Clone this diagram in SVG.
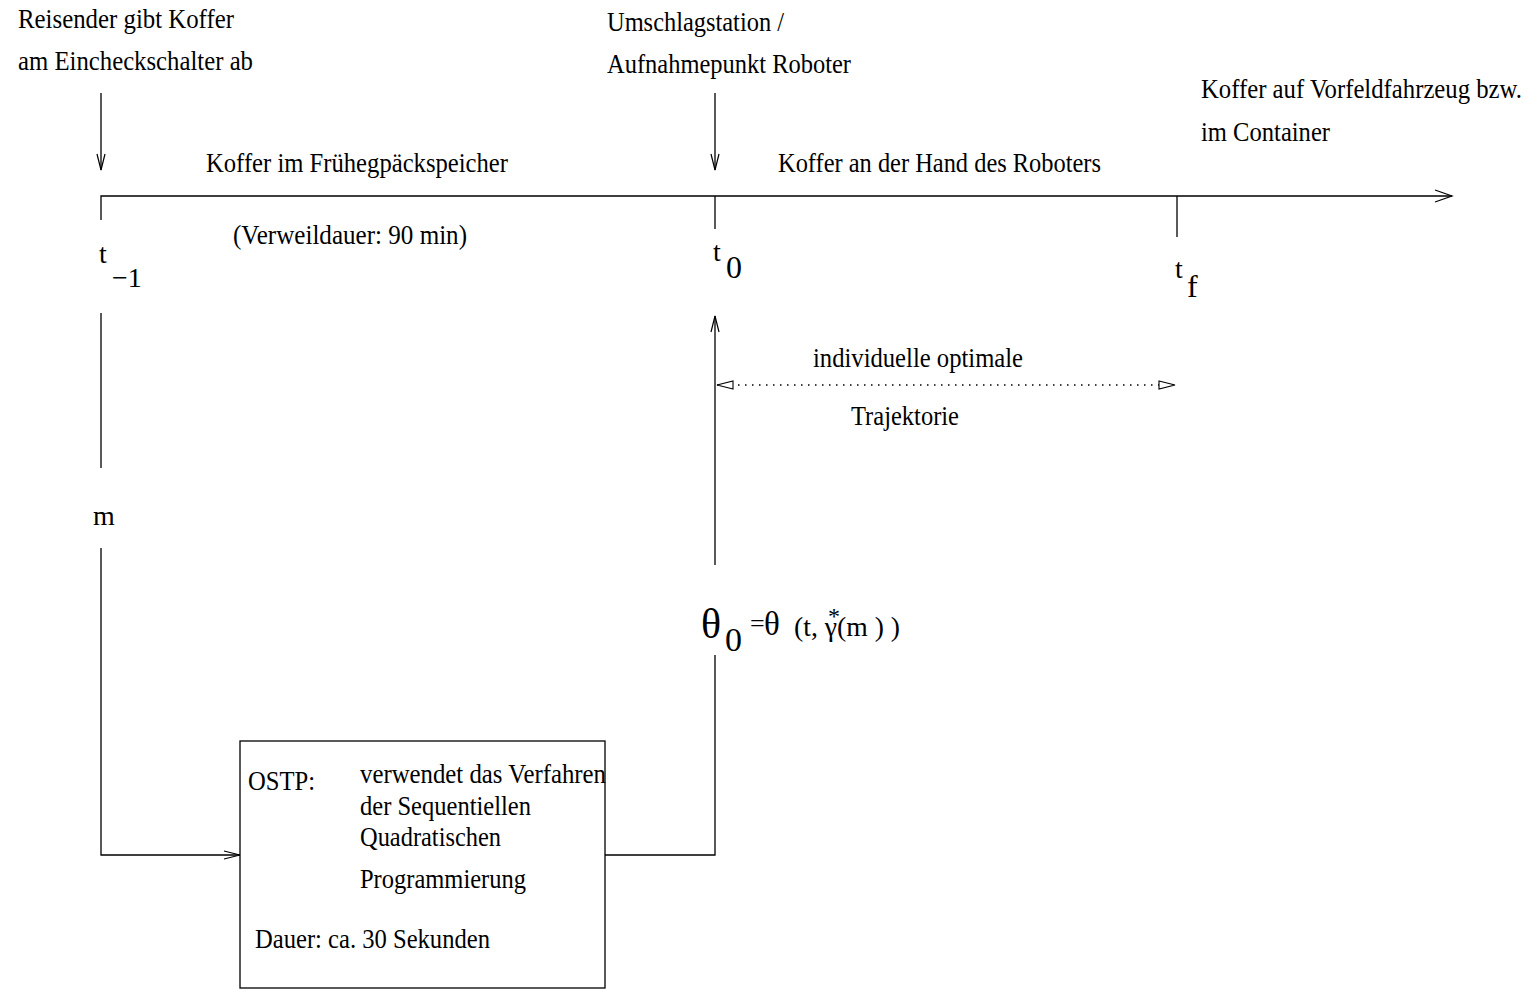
<svg xmlns="http://www.w3.org/2000/svg" width="1540" height="992" viewBox="0 0 1540 992">
  <style>
    text { font-family: "Liberation Serif", "Times New Roman", serif; font-size: 28px; fill: #000; }
    .t { font-size: 28px; }
    .sub { font-size: 32px; }
    .ln { fill: none; stroke: #000; stroke-width: 1.3; }
    .dot { fill: none; stroke: #000; stroke-width: 1.3; stroke-dasharray: 1.5 5.5; }
    .box { fill: #fff; stroke: #000; stroke-width: 1.3; }
  </style>
  <defs>
    <!-- open "V" heads, drawn at 1:1 user units -->
    <marker id="vee" markerUnits="userSpaceOnUse" viewBox="-20 -10 22 20" markerWidth="22" markerHeight="20" refX="0" refY="0" orient="auto" overflow="visible">
      <path d="M-16,-4 L0,0 L-16,4" fill="none" stroke="#000" stroke-width="1.2"/>
    </marker>
    <marker id="veeWide" markerUnits="userSpaceOnUse" viewBox="-20 -10 22 20" markerWidth="22" markerHeight="20" refX="0" refY="0" orient="auto" overflow="visible">
      <path d="M-17,-6 L0,0 L-17,6" fill="none" stroke="#000" stroke-width="1.2"/>
    </marker>
    <!-- hollow triangle heads for the dotted span -->
    <marker id="tri" markerUnits="userSpaceOnUse" viewBox="-20 -10 22 20" markerWidth="22" markerHeight="20" refX="0" refY="0" orient="auto-start-reverse" overflow="visible">
      <path d="M-16,-4 L0,0 L-16,4 Z" fill="#fff" stroke="#000" stroke-width="1.1"/>
    </marker>
  </defs>

  <rect width="1540" height="992" fill="#fff"/>

  <g id="connectors">
    <!-- time axis with ticks -->
    <path class="ln" d="M101,220 L101,196 L1452,196" marker-end="url(#veeWide)"/>
    <path class="ln" d="M715,196 L715,229"/>
    <path class="ln" d="M1177,196 L1177,237"/>
    <!-- event pointers -->
    <path class="ln" d="M101,93 L101,170" marker-end="url(#vee)"/>
    <path class="ln" d="M715,93 L715,170" marker-end="url(#vee)"/>
    <!-- t-1 to OSTP -->
    <path class="ln" d="M101,313 L101,468"/>
    <path class="ln" d="M101,548 L101,855 L240,855" marker-end="url(#vee)"/>
    <!-- OSTP result up to t0 -->
    <path class="ln" d="M605,855 L715,855 L715,655"/>
    <path class="ln" d="M715,565 L715,316" marker-end="url(#vee)"/>
    <!-- optimal trajectory span -->
    <path class="dot" d="M717,385 L1175,385"/>
    <path d="M717,385 L1175,385" fill="none" stroke="none" marker-start="url(#tri)" marker-end="url(#tri)"/>
  </g>

  <g id="checkin-note">
    <text x="18" y="28" textLength="216" lengthAdjust="spacingAndGlyphs">Reisender gibt Koffer</text>
    <text x="18" y="70" textLength="235" lengthAdjust="spacingAndGlyphs">am Eincheckschalter ab</text>
  </g>

  <g id="transfer-note">
    <text x="607" y="31" textLength="177" lengthAdjust="spacingAndGlyphs">Umschlagstation /</text>
    <text x="607" y="73" textLength="244" lengthAdjust="spacingAndGlyphs">Aufnahmepunkt Roboter</text>
  </g>

  <g id="apron-note">
    <text x="1201" y="98" textLength="321" lengthAdjust="spacingAndGlyphs">Koffer auf Vorfeldfahrzeug bzw.</text>
    <text x="1201" y="141" textLength="129" lengthAdjust="spacingAndGlyphs">im Container</text>
  </g>

  <g id="phase-storage">
    <text x="206" y="172" textLength="302" lengthAdjust="spacingAndGlyphs">Koffer im Frühegpäckspeicher</text>
    <text x="233" y="244" textLength="234" lengthAdjust="spacingAndGlyphs">(Verweildauer: 90 min)</text>
  </g>

  <g id="phase-robot">
    <text x="778" y="172" textLength="323" lengthAdjust="spacingAndGlyphs">Koffer an der Hand des Roboters</text>
  </g>

  <g id="time-t-1">
    <text class="t" x="99" y="263">t</text>
    <text class="t" x="112" y="287">−1</text>
  </g>

  <g id="time-t0">
    <text class="t" x="713" y="261">t</text>
    <text class="sub" x="726" y="278">0</text>
  </g>

  <g id="time-tf">
    <text class="t" x="1175" y="278">t</text>
    <text class="sub" x="1187" y="297">f</text>
  </g>

  <g id="mass-label">
    <text x="93" y="525">m</text>
  </g>

  <g id="trajectory">
    <text x="813" y="367" textLength="210" lengthAdjust="spacingAndGlyphs">individuelle optimale</text>
    <text x="851" y="425" textLength="108" lengthAdjust="spacingAndGlyphs">Trajektorie</text>
  </g>

  <g id="initial-state">
    <text x="701" y="638" style="font-size:42px">θ</text>
    <text x="725" y="651" style="font-size:34px">0</text>
    <text x="750" y="632" style="font-size:26px">=</text>
    <text x="764" y="635" style="font-size:33px">θ</text>
    <text x="794" y="636" textLength="106" lengthAdjust="spacingAndGlyphs">(t, γ(m ) )</text>
    <text x="828" y="624" style="font-size:24px">*</text>
  </g>

  <g id="ostp">
    <rect class="box" x="240" y="741" width="365" height="247"/>
    <text x="248" y="790" textLength="67" lengthAdjust="spacingAndGlyphs">OSTP:</text>
    <text x="360" y="783" textLength="246" lengthAdjust="spacingAndGlyphs">verwendet das Verfahren</text>
    <text x="360" y="815" textLength="171" lengthAdjust="spacingAndGlyphs">der Sequentiellen</text>
    <text x="360" y="846" textLength="141" lengthAdjust="spacingAndGlyphs">Quadratischen</text>
    <text x="360" y="888" textLength="166" lengthAdjust="spacingAndGlyphs">Programmierung</text>
    <text x="255" y="948" textLength="235" lengthAdjust="spacingAndGlyphs">Dauer: ca. 30 Sekunden</text>
  </g>
</svg>
